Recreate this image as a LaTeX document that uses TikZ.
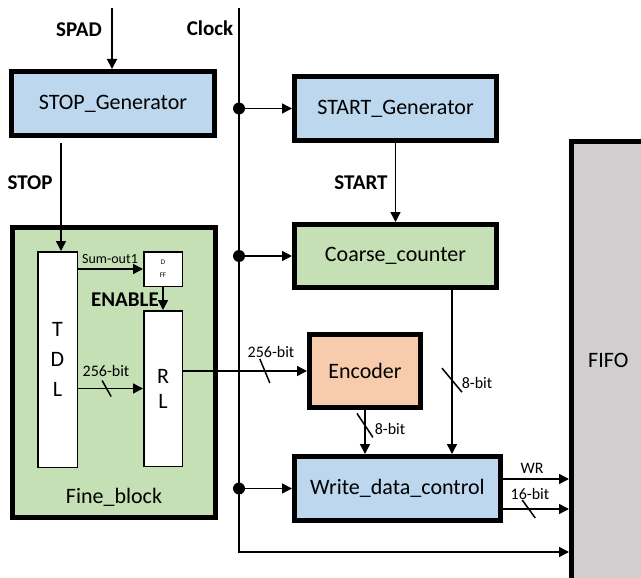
\documentclass[tikz,border=0pt]{standalone}
\usepackage{fontspec}
\setmainfont{Carlito}
\usetikzlibrary{arrows.meta, positioning, calc}
\definecolor{genblue}{RGB}{189,215,238}
\definecolor{cntgreen}{RGB}{197,224,180}
\definecolor{encsalmon}{RGB}{248,203,173}
\definecolor{fifogray}{RGB}{208,206,206}

\begin{document}
\begin{tikzpicture}[
    x=1pt, y=-1pt,
    box/.style={draw, line width=5pt, outer sep=2.5pt, inner sep=0pt, align=center, font=\fontsize{22}{26}\selectfont},
    cell/.style={draw, fill=white, line width=1.5pt, inner sep=0pt, align=center},
    arrow/.style={-{Triangle[length=10pt, width=10pt]}, line width=1.5pt},
    wire/.style={line width=1.5pt},
    sig/.style={font=\bfseries\fontsize{21}{24}\selectfont},
    bus/.style={font=\fontsize{16}{19}\selectfont}
]
    \clip (0,0) rectangle (641,578);

    % Blocks
    \node[box, fill=genblue, minimum width=203pt, minimum height=64pt] (stopgen) at (113,103.5) {STOP\_Generator};
    \node[box, fill=genblue, minimum width=202pt, minimum height=64pt] (startgen) at (395.5,108.5) {START\_Generator};
    \node[box, fill=cntgreen, minimum width=202pt, minimum height=63pt] (coarse) at (395.5,256) {Coarse\_counter};
    \node[box, fill=encsalmon, minimum width=111pt, minimum height=73pt] (enc) at (365,371) {Encoder};
    \node[box, fill=genblue, minimum width=206pt, minimum height=64pt] (wdc) at (397.5,488.5) {Write\_data\_control};
    \node[box, fill=fifogray, minimum width=73.5pt, minimum height=438.5pt] (fifo) at (608.25,360.75) {FIFO};

    % Fine block
    \node[box, fill=cntgreen, minimum width=203pt, minimum height=290pt] (fine) at (114,372.5) {};
    \node[font=\fontsize{22}{26}\selectfont] (finename) at (114,497) {Fine\_block};
    \node[cell, minimum width=39.5pt, minimum height=215.5pt, font=\fontsize{22}{30}\selectfont] (tdl) at (57.5,359.5) {T\\D\\L};
    \node[cell, minimum width=38.5pt, minimum height=155.5pt, font=\fontsize{22}{25}\selectfont] (rl) at (163,388.5) {R\\L};
    \node[cell, minimum width=38.5pt, minimum height=34.5pt, font=\fontsize{7}{13}\selectfont] (dff) at (163,269) {D\\FF};

    % Clock line
    \coordinate (clktop) at (239,8);
    \coordinate (clkcorner) at (239,552);
    \coordinate (spadin) at (112,8);
    \draw[arrow] (clktop) -- (clkcorner) -- (clkcorner -| fifo.west);
    \fill (clktop |- startgen) circle (6);
    \fill (clktop |- coarse) circle (6);
    \fill (clktop |- wdc) circle (6);
    \draw[arrow] (clktop |- startgen) -- (startgen.west);
    \draw[arrow] (clktop |- coarse) -- (coarse.west);
    \draw[arrow] (clktop |- wdc) -- (wdc.west);

    % Signals
    \draw[arrow] (spadin) -- (spadin |- stopgen.north);
    \draw[arrow, shorten <=5pt] ([xshift=3.5pt]tdl.north |- stopgen.south) -- ([xshift=3.5pt]tdl.north);
    \draw[arrow] (startgen.south) -- (coarse.north);
    \draw[arrow] (tdl.east |- dff.west) -- (dff.west);
    \draw[arrow] (dff.south) -- (rl.north);
    \draw[arrow] (tdl.east |- rl.west) -- (rl.west);
    \draw[arrow] (rl.east |- enc.west) -- (enc.west);
    \draw[arrow] (enc.south) -- (enc.south |- wdc.north);
    \draw[arrow] ([xshift=56.5pt]coarse.south) -- ([xshift=56.5pt]coarse.south |- wdc.north);
    \draw[arrow] ([yshift=9.5pt]wdc.east) -- ([yshift=9.5pt]wdc.east -| fifo.west);
    \draw[arrow] ([yshift=-20.5pt]wdc.east) -- ([yshift=-20.5pt]wdc.east -| fifo.west);

    % Bus slashes
    \draw[wire] ($(tdl.east |- rl.west)!0.44!(rl.west)$) ++(-4.5,-8) -- ++(9,16);
    \draw[wire] ($(rl.east |- enc.west)!0.66!(enc.west)$) ++(-5,-12) -- ++(10,24);
    \draw[wire] ($(enc.south)!0.35!(enc.south |- wdc.north)$) ++(-8,-12) -- ++(16,24);
    \draw[wire] ($([xshift=56.5pt]coarse.south)!0.55!([xshift=56.5pt]coarse.south |- wdc.north)$) ++(-10,-12) -- ++(20,24);
    \draw[wire] ($([yshift=-20.5pt]wdc.east)!0.39!([yshift=-20.5pt]wdc.east -| fifo.west)$) ++(-6.5,-9) -- ++(13,18);

    % Labels
    \node[sig] (spadlbl) at (79,30) {SPAD};
    \node[sig] (clklbl) at (210,28) {Clock};
    \node[sig] (stoplbl) at (30,183) {STOP};
    \node[sig] (startlbl) at (361,183) {START};
    \node[sig] (enlbl) at (125,300) {ENABLE};
    \node[bus, font=\fontsize{14}{17}\selectfont] (sumlbl) at (110,259) {Sum-out1};
    \node[bus] (tdlbus) at (106,371) {256-bit};
    \node[bus] (rlbus) at (271,352) {256-bit};
    \node[bus] (cntbus) at (477,383) {8-bit};
    \node[bus] (encbus) at (390,429) {8-bit};
    \node[bus] (wrlbl) at (532,468) {WR};
    \node[bus] (outbus) at (530,494) {16-bit};
\end{tikzpicture}
\end{document}
